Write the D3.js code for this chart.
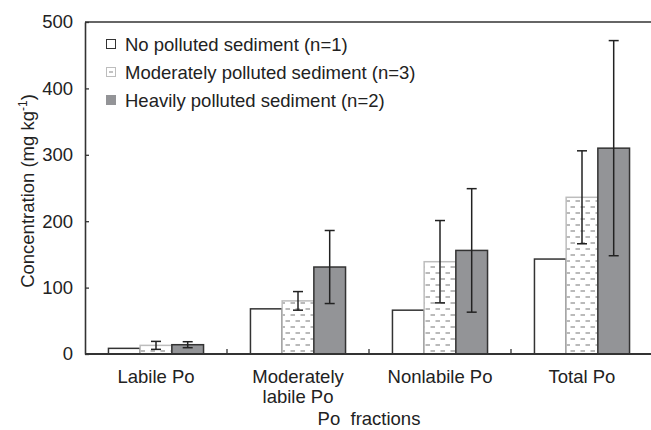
<!DOCTYPE html>
<html>
<head>
<meta charset="utf-8">
<script src="https://cdn.jsdelivr.net/npm/d3@7"></script>
<style>
    body { margin: 0; background: #fff; }
    svg { display: block; font-family: "Liberation Sans", Arial, sans-serif; }
</style>
</head>
<body>
<div id="chart"></div>
<script>
const categories = ["Labile Po", "Moderately labile Po", "Nonlabile Po", "Total Po"];
const categoryLines = [["Labile Po"], ["Moderately", "labile Po"], ["Nonlabile Po"], ["Total Po"]];
const seriesNames = ["No polluted sediment (n=1)", "Moderately polluted sediment (n=3)", "Heavily polluted sediment (n=2)"];
const noPolluted = [8.5, 68, 66, 143];
const moderatelyPolluted = [13, 80, 139, 236];
const heavilyPolluted = [14, 131, 156, 310];
const noPollutedErr = [null, null, null, null];
const moderatelyErr = [6, 14, 62, 70];
const heavilyErr = [4.5, 55, 93, 162];
const yTicks = [0, 100, 200, 300, 400, 500];

const width = 651, height = 430;
const margin = { top: 22, right: -2, bottom: 76, left: 85 };
const fontSize = 18.5;

const svg = d3.select("#chart").append("svg")
    .attr("width", width)
    .attr("height", height);

// dash pattern for the moderately polluted bars
const defs = svg.append("defs");
const pat = defs.append("pattern")
    .attr("id", "dashes")
    .attr("patternUnits", "userSpaceOnUse")
    .attr("width", 10)
    .attr("height", 12);
pat.append("rect").attr("width", 10).attr("height", 12).attr("fill", "#fff");
pat.append("line").attr("x1", 0.5).attr("x2", 5).attr("y1", 3).attr("y2", 3)
    .attr("stroke", "#a9a9a9").attr("stroke-width", 1.6);
pat.append("line").attr("x1", 5.5).attr("x2", 10).attr("y1", 9).attr("y2", 9)
    .attr("stroke", "#a9a9a9").attr("stroke-width", 1.6);

const styles = [
    { fill: "#fff", stroke: "#333" },
    { fill: "url(#dashes)", stroke: "#bdbdbd" },
    { fill: "#939497", stroke: "#333" }
];

const seriesData = [
    { values: noPolluted, err: noPollutedErr },
    { values: moderatelyPolluted, err: moderatelyErr },
    { values: heavilyPolluted, err: heavilyErr }
];

const x0 = d3.scaleBand()
    .domain(categories)
    .range([margin.left, width - margin.right])
    .padding(0);

const x1 = d3.scaleBand()
    .domain(d3.range(seriesNames.length))
    .range([0, x0.bandwidth()])
    .paddingInner(0)
    .paddingOuter(0.74);

const y = d3.scaleLinear()
    .domain([0, 500])
    .range([height - margin.bottom, margin.top]);

// bars
categories.forEach((cat, i) => {
    seriesData.forEach((s, j) => {
        const v = s.values[i];
        svg.append("rect")
            .attr("x", x0(cat) + x1(j))
            .attr("y", y(v))
            .attr("width", x1.bandwidth())
            .attr("height", y(0) - y(v))
            .attr("fill", styles[j].fill)
            .attr("stroke", styles[j].stroke)
            .attr("stroke-width", 1.5);
    });
});

// error bars
categories.forEach((cat, i) => {
    seriesData.forEach((s, j) => {
        const e = s.err[i];
        if (e == null) return;
        const v = s.values[i];
        const cx = x0(cat) + x1(j) + x1.bandwidth() / 2;
        const g = svg.append("g").attr("stroke", "#222").attr("stroke-width", 1.5);
        g.append("line").attr("x1", cx).attr("x2", cx).attr("y1", y(v + e)).attr("y2", y(v - e));
        g.append("line").attr("x1", cx - 5).attr("x2", cx + 5).attr("y1", y(v + e)).attr("y2", y(v + e));
        g.append("line").attr("x1", cx - 5).attr("x2", cx + 5).attr("y1", y(v - e)).attr("y2", y(v - e));
    });
});

// y axis
const yAxis = svg.append("g")
    .attr("transform", `translate(${margin.left},0)`)
    .call(d3.axisLeft(y).tickValues(yTicks).tickSizeInner(-4).tickSizeOuter(0).tickPadding(12));
yAxis.select(".domain").attr("stroke", "#333").attr("stroke-width", 1.6);
yAxis.selectAll(".tick line").attr("stroke", "#333").attr("stroke-width", 1.3);
yAxis.selectAll(".tick text").attr("font-size", fontSize).attr("fill", "#222")
    .attr("font-family", "Liberation Sans, Arial, sans-serif");

// top border
svg.append("line")
    .attr("x1", margin.left).attr("x2", width)
    .attr("y1", y(500)).attr("y2", y(500))
    .attr("stroke", "#333").attr("stroke-width", 1.6);

// x axis
const xAxis = svg.append("g")
    .attr("transform", `translate(0,${y(0)})`);
xAxis.append("line")
    .attr("x1", margin.left).attr("x2", width)
    .attr("stroke", "#333").attr("stroke-width", 1.8);
categories.slice(1).forEach(cat => {
    xAxis.append("line")
        .attr("x1", x0(cat)).attr("x2", x0(cat))
        .attr("y1", 0).attr("y2", -5)
        .attr("stroke", "#333").attr("stroke-width", 1.3);
});
categories.forEach((cat, i) => {
    const t = xAxis.append("text")
        .attr("x", x0(cat) + x0.bandwidth() / 2)
        .attr("y", 29)
        .attr("text-anchor", "middle")
        .attr("font-size", fontSize)
        .attr("fill", "#222");
    categoryLines[i].forEach((line, k) => {
        t.append("tspan")
            .attr("x", x0(cat) + x0.bandwidth() / 2)
            .attr("dy", k === 0 ? 0 : 20)
            .text(line);
    });
});

// axis titles
svg.append("text")
    .attr("x", (margin.left + width - margin.right) / 2)
    .attr("y", 425)
    .attr("text-anchor", "middle")
    .attr("font-size", fontSize)
    .attr("fill", "#222")
    .attr("xml:space", "preserve")
    .text("Po  fractions");

const yTitle = svg.append("text")
    .attr("transform", `translate(34,${(margin.top + y(0)) / 2 + 3}) rotate(-90)`)
    .attr("text-anchor", "middle")
    .attr("font-size", fontSize)
    .attr("fill", "#222");
yTitle.append("tspan").text("Concentration (mg kg");
yTitle.append("tspan").attr("dy", -7).attr("font-size", 12).text("-1");
yTitle.append("tspan").attr("dy", 7).text(")");

// legend
const legend = svg.append("g").attr("transform", "translate(106,44)");
seriesNames.forEach((name, j) => {
    const row = legend.append("g").attr("transform", `translate(0,${j * 28})`);
    row.append("rect")
        .attr("x", 0.5).attr("y", -4.5)
        .attr("width", 9).attr("height", 9)
        .attr("fill", j === 1 ? "#fff" : styles[j].fill)
        .attr("stroke", j === 2 ? "#939497" : styles[j].stroke)
        .attr("stroke-width", 1);
    if (j === 1) {
        row.append("line").attr("x1", 3).attr("x2", 7).attr("y1", 0).attr("y2", 0)
            .attr("stroke", "#a9a9a9").attr("stroke-width", 1.4);
    }
    row.append("text")
        .attr("x", 19)
        .attr("y", 6.5)
        .attr("font-size", fontSize)
        .attr("fill", "#222")
        .text(name);
});
</script>
</body>
</html>
